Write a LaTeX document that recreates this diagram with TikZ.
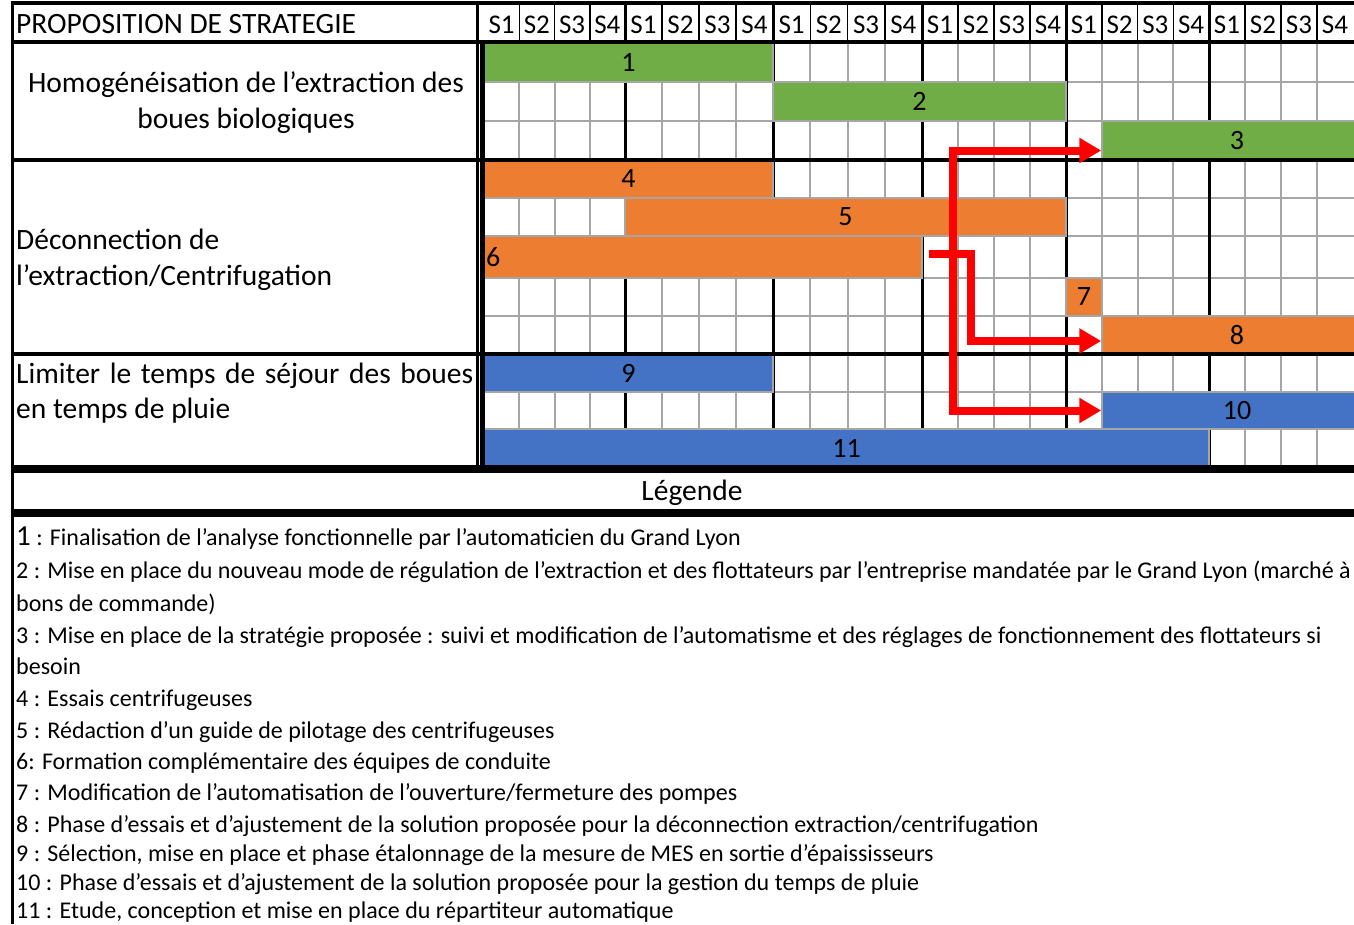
\documentclass[tikz,border=0pt]{standalone}
\usepackage{fontspec}
\setmainfont{Carlito}
\usetikzlibrary{arrows.meta,calc}
\definecolor{barGreen}{HTML}{70AD47}
\definecolor{barOrange}{HTML}{ED7D31}
\definecolor{barBlue}{HTML}{4472C4}
\definecolor{cellGray}{HTML}{A6A6A6}
\definecolor{arrowRed}{HTML}{FF0000}

\begin{document}
\begin{tikzpicture}[x=1pt,y=-1pt,
    cell/.style={draw=cellGray,line width=2pt},
    bar/.style={draw=cellGray,line width=1.5pt,inner xsep=2pt,inner ysep=0pt,font=\fontsize{28}{30}\selectfont},
    link/.style={draw=arrowRed,line width=8pt,-{Triangle[length=22pt,width=24pt]}},
    txt/.style={inner sep=0pt},
    big/.style={font=\fontsize{29.5}{36}\selectfont},
    small/.style={font=\fontsize{24}{26}\selectfont}]

    \useasboundingbox (0,0) rectangle (1354,924);
    \fill[white] (0,0) rectangle (1354,924);
    \clip (0,0) rectangle (1354,924);

    \foreach \y in {82,121,198,236,278,316,392,429}
        \draw[cell] (484,\y) -- (1354,\y);
    \foreach \xa/\xb in {484/625,625/773,773/922,922/1066,1066/1209,1209/1353} {
        \foreach \k in {1,2,3} {
            \draw[cell] ({\xa+\k*(\xb-\xa)/4},42) -- ({\xa+\k*(\xb-\xa)/4},467);
            \draw[line width=1.5pt] ({\xa+\k*(\xb-\xa)/4},3) -- ({\xa+\k*(\xb-\xa)/4},42);
        }
        \foreach \k in {1,...,4}
            \node[txt,font=\fontsize{27}{28}\selectfont,anchor=base] (s\xa\k) at ({\xa+(\k-0.5)*(\xb-\xa)/4},33) {S\k};
    }
    \foreach \x in {625,773,922,1066,1209}
        \draw[line width=3pt] (\x,3) -- (\x,467);

    \foreach \n/\c/\xa/\xb/\ya/\yb/\al in {
        1/barGreen/484/773/42/82/center,
        2/barGreen/773/1066/82/121/center,
        3/barGreen/1102/1372/121/160/center,
        4/barOrange/484/773/160/198/center,
        5/barOrange/625/1066/198/236/center,
        6/barOrange/484/922/236/278/left,
        7/barOrange/1066/1102/278/316/center,
        8/barOrange/1102/1372/316/354/center,
        9/barBlue/484/773/354/392/center,
        10/barBlue/1102/1372/392/429/center,
        11/barBlue/484/1209/429/467/center} {
        \pgfmathsetmacro\w{\xb-\xa}
        \pgfmathsetmacro\tw{\xb-\xa-4}
        \pgfmathsetmacro\h{\yb-\ya}
        \node[bar,fill=\c,minimum width=\w pt,minimum height=\h pt,text width=\tw pt,align=\al]
            (b\n) at ({(\xa+\xb)/2},{(\ya+\yb)/2}) {\n};
    }

    \foreach \y/\lw in {3/4,42/3.5,160/3.5,354/3.5,469/8,513/8}
        \draw[line width=\lw pt] (12,\y) -- (1354,\y);
    \draw[line width=3pt] (12,1) -- (12,924);
    \draw[line width=3pt] (477,3) -- (477,469);
    \draw[line width=5pt] (482,42) -- (482,469);

    \draw[link] ([xshift=6pt,yshift=3pt]b6.east) -- ++(42,0) |- ([yshift=-6pt]b8.west);
    \draw[link] ([xshift=30pt,yshift=3pt]b6.east) |- ([yshift=-10pt]b3.west);
    \draw[link] ([xshift=30pt,yshift=3pt]b6.east) |- (b10.west);

    \node[txt,big,anchor=base west] (title) at (16,33) {PROPOSITION DE STRATEGIE};
    \node[txt,big,align=center] (cat1) at (246,103) {Homogénéisation de l’extraction des\\boues biologiques};
    \node[txt,big,align=left,anchor=west] (cat2) at (16,260) {Déconnection de\\l’extraction/Centrifugation};
    \node[txt,big,anchor=base west] (cat3) at (16,383) {\makebox[457pt][s]{Limiter le temps de séjour des boues}};
    \node[txt,big,anchor=base west] (cat3b) at (16,418) {en temps de pluie};

    \node[txt,big,anchor=base] (leg) at (692,500) {Légende};
    \foreach \i/\y/\t in {
        1/545/{{\fontsize{29}{30}\selectfont 1} : Finalisation de l’analyse fonctionnelle par l’automaticien du Grand Lyon},
        2/578/{2 : Mise en place du nouveau mode de régulation de l’extraction et des flottateurs par l’entreprise mandatée par le Grand Lyon (marché à},
        2b/611/{bons de commande)},
        3/643/{3 : Mise en place de la stratégie proposée : suivi et modification de l’automatisme et des réglages de fonctionnement des flottateurs si},
        3b/674/{besoin},
        4/706/{4 : Essais centrifugeuses},
        5/738/{5 : Rédaction d’un guide de pilotage des centrifugeuses},
        6/769/{6: Formation complémentaire des équipes de conduite},
        7/800/{7 : Modification de l’automatisation de l’ouverture/fermeture des pompes},
        8/832/{8 : Phase d’essais et d’ajustement de la solution proposée pour la déconnection extraction/centrifugation},
        9/861/{9 : Sélection, mise en place et phase étalonnage de la mesure de MES en sortie d’épaississeurs},
        10/890/{10 : Phase d’essais et d’ajustement de la solution proposée pour la gestion du temps de pluie},
        11/918/{11 : Etude, conception et mise en place du répartiteur automatique}}
        \node[txt,small,anchor=base west] (l\i) at (16,\y) {\t};

\end{tikzpicture}
\end{document}
